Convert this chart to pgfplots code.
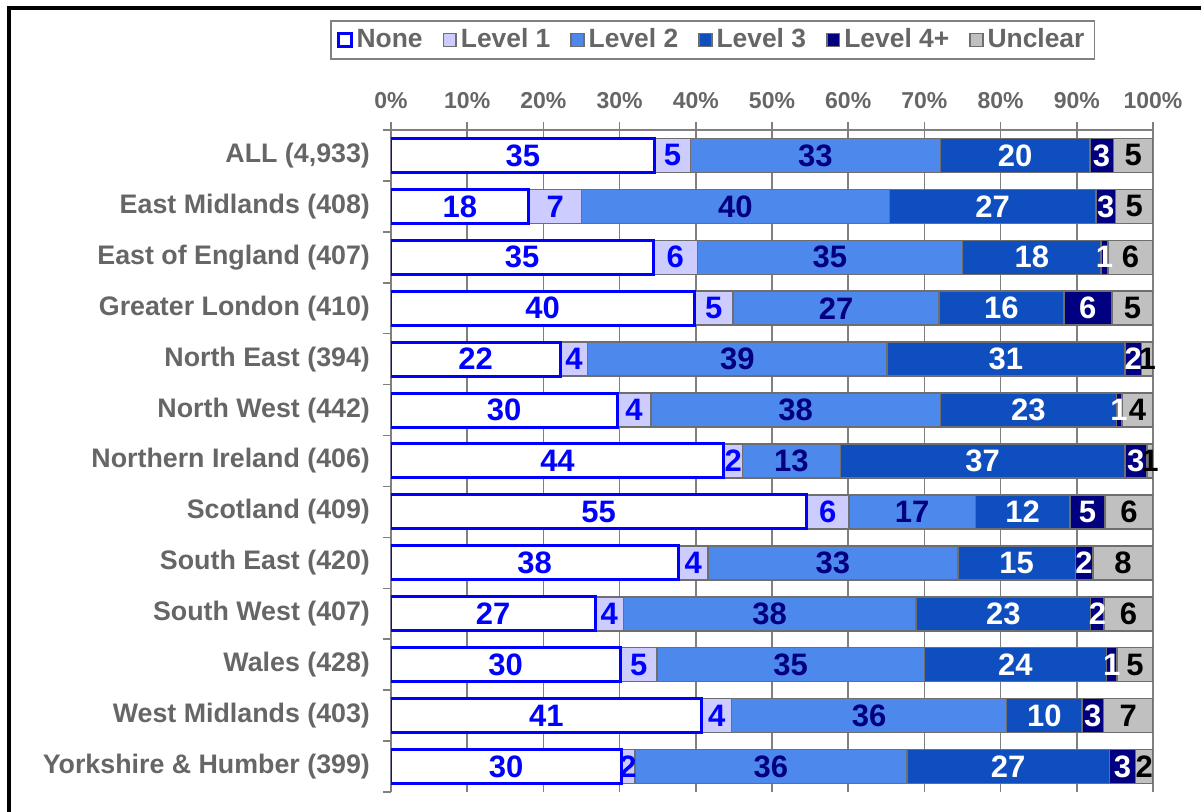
\documentclass[border=0pt]{standalone}
\usepackage{fontspec}
\setmainfont{Liberation Sans}
\usepackage{pgfplots}
\usepackage{pgfplotstable}
\pgfplotsset{compat=1.18}

\definecolor{nonec}{HTML}{0000FF}
\definecolor{lvla}{HTML}{CCCCFF}
\definecolor{lvlb}{HTML}{4D88EC}
\definecolor{lvlc}{HTML}{0F4EBE}
\definecolor{lvld}{HTML}{000080}
\definecolor{uncl}{HTML}{C0C0C0}
\definecolor{edge}{HTML}{6E6E6E}
\definecolor{txtgray}{HTML}{666666}
\definecolor{gridc}{HTML}{808080}

% segment widths (%) and the printed labels
\pgfplotstableread{
y none l1 l2 l3 l4 unc tn t1 t2 t3 t4 tu
12 34.6 4.7 32.8 19.6 3.1 5.2 35 5 33 20 3 5
11 18.1 6.9 40.4 27.1 2.6 4.9 18 7 40 27 3 5
10 34.4 5.8 34.8 18.2 0.9 5.9 35 6 35 18 1 6
9 39.8 5.1 27.0 16.4 6.3 5.4 40 5 27 16 6 5
8 22.2 3.6 39.3 31.2 2.2 1.5 22 4 39 31 2 1
7 29.7 4.4 38.0 23.1 0.7 4.1 30 4 38 23 1 4
6 43.7 2.4 12.9 37.3 2.9 0.8 44 2 13 37 3 1
5 54.5 5.6 16.6 12.4 4.6 6.3 55 6 17 12 5 6
4 37.7 3.9 32.8 15.4 2.3 7.9 38 4 33 15 2 8
3 26.8 3.7 38.4 22.9 1.8 6.4 27 4 38 23 2 6
2 30.1 4.8 35.1 23.9 1.4 4.7 30 5 35 24 1 5
1 40.8 3.9 36.1 9.9 2.8 6.5 41 4 36 10 3 7
0 30.2 1.8 35.7 26.6 3.4 2.3 30 2 36 27 3 2
}\data

\pgfplotsset{
  seg/.style={
    point meta=explicit symbolic,
    nodes near coords,
    every node near coord/.append style={anchor=center,
      font=\fontsize{15.5}{16}\selectfont\bfseries, text=#1, inner sep=0pt},
  },
}

\begin{document}
\begin{tikzpicture}[x=1pt,y=1pt]
\useasboundingbox (0,0) rectangle (600.5,-406);
\clip (0,0) rectangle (600.5,-406);
\draw[line width=2pt] (4.25,-420) -- (4.25,-4) -- (620,-4);
\begin{axis}[
  at={(195.5pt,-65pt)}, anchor=north west,
  scale only axis, width=381pt, height=331pt,
  xbar stacked, bar width=17pt,
  xmin=0, xmax=100, ymin=-0.5, ymax=12.5,
  axis x line=top, axis y line=left,
  axis line style={-, draw=gridc, line width=0.75pt},
  tick align=outside, major tick length=4pt,
  tick style={draw=gridc, line width=0.75pt},
  xtick={0,10,...,100},
  xticklabel={\pgfmathprintnumber[assume math mode=true]{\tick}\%},
  xticklabel style={font=\fontsize{11.5}{13}\selectfont\bfseries, text=txtgray, yshift=3pt},
  xmajorgrids, grid style={draw=gridc, line width=0.75pt},
  ytick={-0.5,0.5,...,12.5},
  y tick label as interval,
  yticklabels={Yorkshire \& Humber (399), West Midlands (403), Wales (428),
    South West (407), South East (420), Scotland (409), Northern Ireland (406),
    North West (442), North East (394), Greater London (410),
    East of England (407), East Midlands (408), {ALL (4,933)}},
  yticklabel style={font=\fontsize{13.4}{15}\selectfont\bfseries, text=txtgray, xshift=-3pt},
  legend image code/.code={\draw[#1] (0pt,-3.2pt) rectangle (6.4pt,3.2pt);},
  legend columns=6,
  legend style={at={(axis description cs:-0.080,1.166)}, anchor=north west,
    draw=gridc, line width=0.75pt, inner xsep=3pt, inner ysep=2pt,
    font=\fontsize{13.2}{14}\selectfont\bfseries, text=txtgray,
    /tikz/every even column/.append style={column sep=8pt}},
]
\addplot[fill=white, draw=nonec, line width=1.5pt, seg=nonec] table[x=none, y=y, meta=tn] {\data};
\addplot[fill=lvla, draw=edge, line width=0.75pt, seg=nonec] table[x=l1, y=y, meta=t1] {\data};
\addplot[fill=lvlb, draw=edge, line width=0.75pt, seg=lvld] table[x=l2, y=y, meta=t2] {\data};
\addplot[fill=lvlc, draw=edge, line width=0.75pt, seg=white] table[x=l3, y=y, meta=t3] {\data};
\addplot[fill=lvld, draw=edge, line width=0.75pt, seg=white] table[x=l4, y=y, meta=t4] {\data};
\addplot[fill=uncl, draw=edge, line width=0.75pt, seg=black] table[x=unc, y=y, meta=tu] {\data};
\legend{None, Level 1, Level 2, Level 3, Level 4+, Unclear}
\end{axis}
\end{tikzpicture}
\end{document}
